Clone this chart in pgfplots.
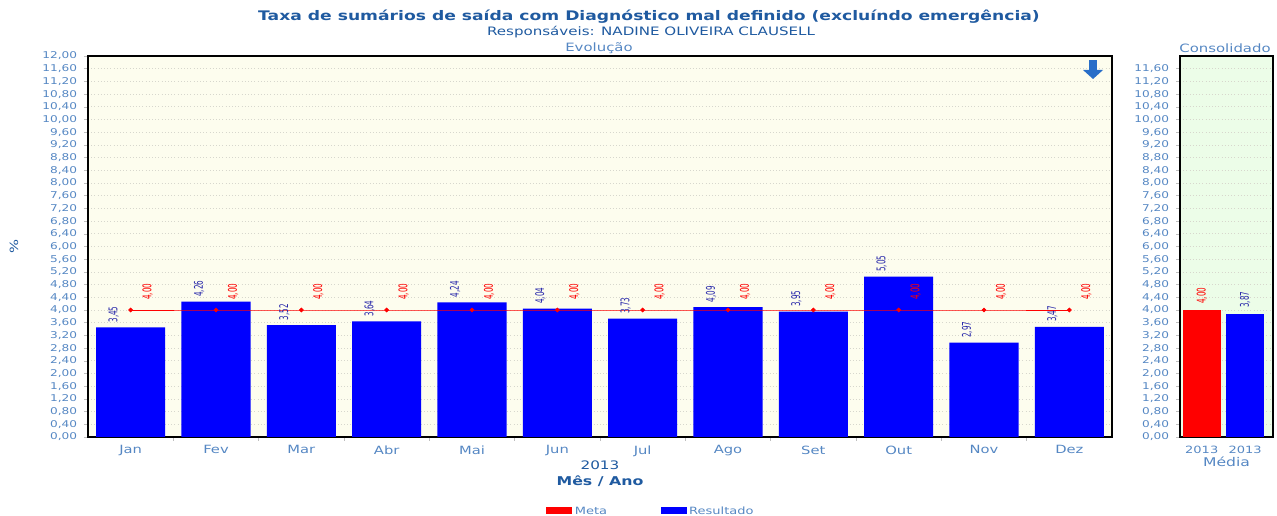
\documentclass[border=0pt]{standalone}
\usepackage{fontspec}
\setmainfont{DejaVu Sans}[FakeStretch=1.3]
\newfontfamily\lblfont{DejaVu Sans}[FakeStretch=0.6]
\usepackage{pgfplots}
\pgfplotsset{compat=1.18}
\definecolor{titleblue}{RGB}{31,90,160}
\definecolor{tickblue}{RGB}{85,135,195}
\definecolor{barblue}{RGB}{0,0,255}
\definecolor{lblblue}{RGB}{40,40,170}
\definecolor{cream}{RGB}{253,253,238}
\definecolor{palegreen}{RGB}{236,253,232}
\definecolor{gridgray}{RGB}{215,215,205}
\definecolor{arrowblue}{RGB}{40,110,200}
\tikzset{lbl/.style={font=\lblfont\fontsize{9}{9}\selectfont, rotate=90, anchor=west, inner sep=0.5pt}}
\newcommand{\numfmt}{\pgfmathprintnumber[fixed,fixed zerofill,precision=2,use comma,assume math mode=true]{\pgfplotspointmeta}}
\begin{document}
\begin{tikzpicture}[x=0.75pt,y=0.75pt]
\useasboundingbox (0,0) rectangle (1277,516);
\pgfplotsset{
  chartbase/.style={
    scale only axis, height=285.75pt, ymin=0, ymax=12,
    axis line style={black, line width=1.6pt},
    axis background/.style={fill=#1},
    ymajorgrids, grid style={gridgray, dotted, line width=0.5pt},
    tick style={gray!50, line width=0.4pt},
    tick align=outside, major tick length=3pt, minor tick length=3pt,
    ytick pos=left, xtick pos=bottom,
    y tick label style={font=\fontsize{7}{8}\selectfont, text=tickblue, inner sep=1.5pt, xshift=-3.5pt,
      /pgf/number format/.cd, fixed, fixed zerofill, precision=2, use comma, assume math mode=true},
    x tick label style={font=\fontsize{8.5}{9}\selectfont, text=tickblue},
    clip=false,
  },
}
% main axis
\begin{axis}[chartbase=cream, at={(66pt,59.25pt)}, anchor=south west, width=768pt,
  xmin=-0.5, xmax=11.5,
  ytick={0,0.4,0.8,1.2,1.6,2,2.4,2.8,3.2,3.6,4,4.4,4.8,5.2,5.6,6,6.4,6.8,7.2,7.6,8,8.4,8.8,9.2,9.6,10,10.4,10.8,11.2,11.6,12},
  xtick={0,...,11},
  xticklabels={Jan,Fev,Mar,Abr,Mai,Jun,Jul,Ago,Set,Out,Nov,Dez},
  major x tick style={draw=none},
  minor xtick={0.5,1.5,2.5,3.5,4.5,5.5,6.5,7.5,8.5,9.5,10.5},
  xlabel={{\fontsize{8.8}{12}\selectfont 2013}\\[0.5pt]{\fontsize{9.1}{12}\selectfont\bfseries Mês / Ano}},
  xlabel style={align=center, text=titleblue, yshift=4pt},
  ylabel={\%}, ylabel style={text=titleblue, font=\fontsize{8.5}{8}\selectfont, yshift=13pt},
  legend style={at={(0.55,-0.197)}, anchor=center, draw=none, fill=none,
    font=\fontsize{7.5}{8}\selectfont, text=tickblue, legend columns=2,
    /tikz/every even column/.append style={column sep=38pt}},
  legend image code/.code={\fill[#1, draw=none] (0pt,-1.2pt) rectangle (19.5pt,4pt);},
]
\addlegendimage{fill=red}
\addlegendentry{Meta}
\addlegendimage{fill=barblue}
\addlegendentry{Resultado}
\addplot[ybar, bar width=0.81, fill=barblue, draw=none, forget plot,
  nodes near coords={\numfmt},
  every node near coord/.style={lblblue, xshift=-12.75pt, yshift=3pt, lbl}]
coordinates {(0,3.45) (1,4.26) (2,3.52) (3,3.64) (4,4.24) (5,4.04) (6,3.73) (7,4.09) (8,3.95) (9,5.05) (10,2.97) (11,3.47)};
\addplot[red, line width=0.6pt, mark=*, mark size=1.4pt, forget plot,
  nodes near coords={\numfmt},
  every node near coord/.style={red, xshift=12.75pt, yshift=7pt, lbl}]
coordinates {(0,4) (1,4) (2,4) (3,4) (4,4) (5,4) (6,4) (7,4) (8,4) (9,4) (10,4) (11,4)};
\end{axis}
% consolidated axis
\begin{axis}[chartbase=palegreen, at={(885pt,59.25pt)}, anchor=south west, width=69.75pt,
  xmin=-0.5, xmax=1.64,
  ytick={0,0.4,0.8,1.2,1.6,2,2.4,2.8,3.2,3.6,4,4.4,4.8,5.2,5.6,6,6.4,6.8,7.2,7.6,8,8.4,8.8,9.2,9.6,10,10.4,10.8,11.2,11.6},
  xtick={0,1}, xticklabels={2013,2013}, major x tick style={draw=none},
  x tick label style={font=\fontsize{7.5}{8}\selectfont},
  xlabel={Média}, xlabel style={text=tickblue, font=\fontsize{9}{10}\selectfont, yshift=4pt},
]
\addplot[ybar, bar width=0.88, fill=red, draw=none,
  nodes near coords={\numfmt},
  every node near coord/.style={red, yshift=4pt, lbl}]
coordinates {(0,4.00)};
\addplot[ybar, bar width=0.88, fill=barblue, draw=none,
  nodes near coords={\numfmt},
  every node near coord/.style={lblblue, yshift=4pt, lbl}]
coordinates {(1,3.87)};
\end{axis}
% titles
\node[text=titleblue, font=\fontsize{9.9}{11}\selectfont\bfseries] at (649,499) {Taxa de sumários de saída com Diagnóstico mal definido (excluíndo emergência)};
\node[text=titleblue, font=\fontsize{8.7}{10}\selectfont] at (651,484) {Responsáveis: NADINE OLIVEIRA CLAUSELL};
\node[text=tickblue, font=\fontsize{8.6}{9}\selectfont] at (599,468) {Evolução};
\node[text=tickblue, font=\fontsize{8.6}{9}\selectfont] at (1225,468) {Consolidado};
% download icon
\fill[arrowblue] (1089,456) rectangle (1097,446);
\fill[arrowblue] (1083,446) -- (1103,446) -- (1093,437) -- cycle;
\end{tikzpicture}
\end{document}
